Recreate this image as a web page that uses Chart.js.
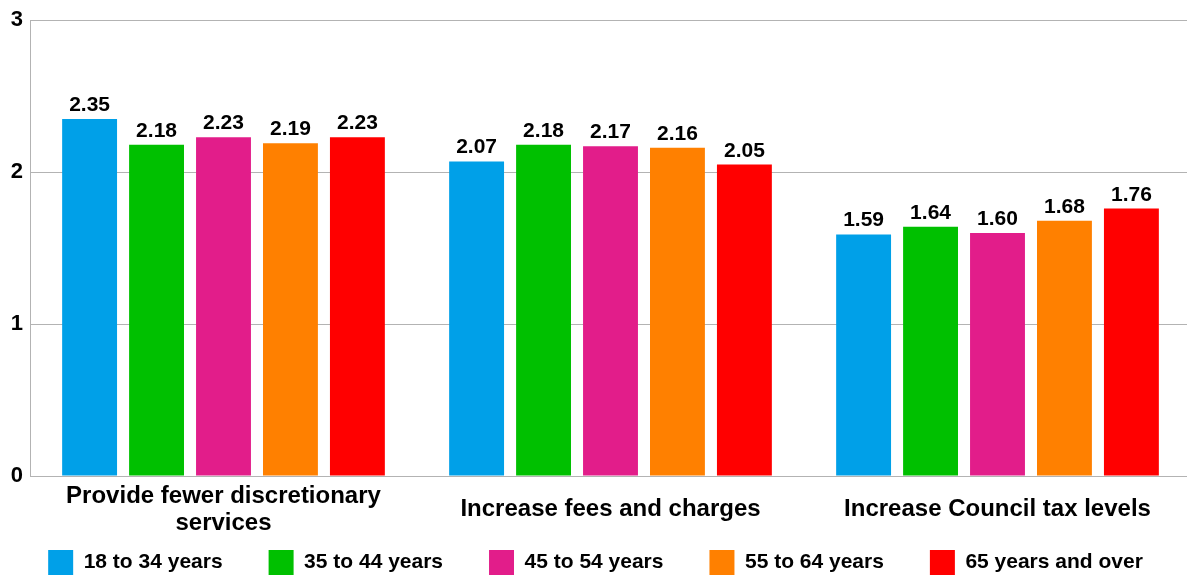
<!DOCTYPE html>
<html>
<head>
<meta charset="utf-8">
<script src="https://cdn.jsdelivr.net/npm/chart.js@4/dist/chart.umd.min.js"></script>
<style>
  html, body { margin: 0; padding: 0; background: #fff; overflow: hidden; width: 1187px; height: 576px; }
  canvas { display: block; }
</style>
</head>
<body>
<canvas id="c" width="1191" height="576"></canvas>
<script>
const categories = [['Provide fewer discretionary', 'services'], 'Increase fees and charges', 'Increase Council tax levels'];
const seriesNames = ['18 to 34 years', '35 to 44 years', '45 to 54 years', '55 to 64 years', '65 years and over'];
const age18to34 = [2.35, 2.07, 1.59];
const age35to44 = [2.18, 2.18, 1.64];
const age45to54 = [2.23, 2.17, 1.60];
const age55to64 = [2.19, 2.16, 1.68];
const age65plus = [2.23, 2.05, 1.76];
const yTicks = [0, 1, 2, 3];
const seriesColors = ['#00a0e8', '#00c000', '#e21d8a', '#ff8000', '#ff0000'];

const seriesValues = [age18to34, age35to44, age45to54, age55to64, age65plus];

Chart.defaults.font.family = '"Liberation Sans", Arial, sans-serif';
Chart.defaults.color = '#000';

const valueLabels = {
  id: 'valueLabels',
  afterDatasetsDraw(chart) {
    const ctx = chart.ctx;
    ctx.save();
    ctx.font = 'bold 21px "Liberation Sans", Arial, sans-serif';
    ctx.fillStyle = '#000';
    ctx.textAlign = 'center';
    ctx.textBaseline = 'alphabetic';
    chart.data.datasets.forEach((ds, i) => {
      const meta = chart.getDatasetMeta(i);
      meta.data.forEach((bar, j) => {
        ctx.fillText(ds.data[j].toFixed(2), bar.x, bar.y - 8);
      });
    });
    ctx.restore();
  }
};

// let the category labels extend below the axis box (they are not clipped to it)
const labelRoom = {
  id: 'labelRoom',
  afterLayout(chart) {
    const x = chart.scales.x;
    x.bottom = chart.height;
  }
};

new Chart(document.getElementById('c'), {
  type: 'bar',
  data: {
    labels: categories,
    datasets: seriesNames.map((name, i) => ({
      label: name,
      data: seriesValues[i],
      backgroundColor: seriesColors[i],
      borderWidth: 0,
      categoryPercentage: 0.865,
      barPercentage: 0.82
    }))
  },
  options: {
    responsive: false,
    animation: false,
    layout: { padding: { top: 19, left: 0, right: 0, bottom: 0 } },
    plugins: {
      tooltip: { enabled: false },
      legend: {
        position: 'bottom',
        maxHeight: 72,
        labels: {
          boxWidth: 25,
          boxHeight: 25,
          padding: 46,
          color: '#000',
          font: { size: 21, weight: 'bold' }
        }
      }
    },
    scales: {
      x: {
        grid: { display: false, drawTicks: false },
        border: { display: true, color: '#b3b3b3', width: 1 },
        ticks: {
          color: '#000',
          font: { size: 24, weight: 'bold', lineHeight: 1.125 },
          padding: 20,
          maxRotation: 0,
          autoSkip: false,
          crossAlign: 'center'
        },
        afterFit(scale) { scale.height = 28; }
      },
      y: {
        min: 0,
        max: 3,
        afterBuildTicks(scale) { scale.ticks = yTicks.map(v => ({ value: v })); },
        grid: { color: '#b3b3b3', lineWidth: 1, drawTicks: false },
        border: { display: true, color: '#b3b3b3', width: 1 },
        ticks: {
          color: '#000',
          font: { size: 22, weight: 'bold' },
          padding: 7,
          callback: v => String(v)
        },
        afterFit(scale) { scale.width = 30; }
      }
    }
  },
  plugins: [valueLabels, labelRoom]
});
</script>
</body>
</html>
